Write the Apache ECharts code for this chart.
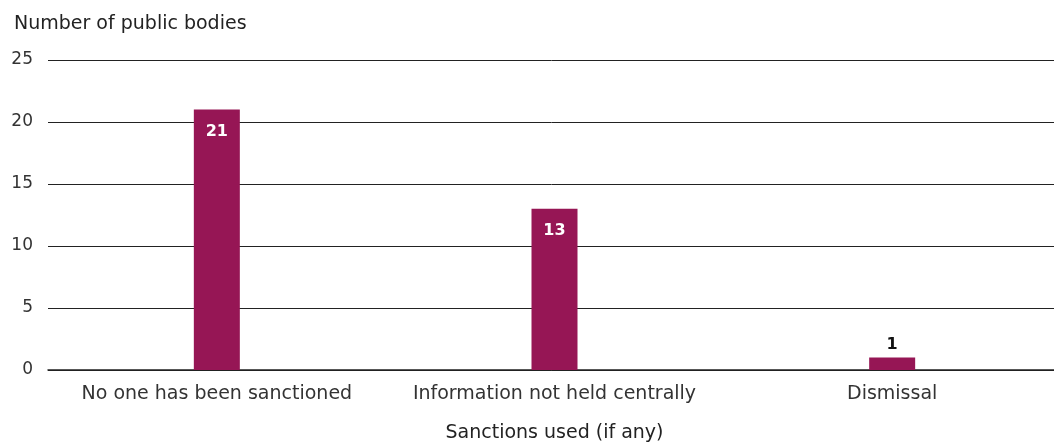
<!DOCTYPE html>
<html>
<head>
<meta charset="utf-8">
<script src="https://cdn.jsdelivr.net/npm/echarts@6/dist/echarts.min.js"></script>
<style>
  html, body { margin: 0; padding: 0; background: #fff; }
  #chart { width: 1054px; height: 444px; }
</style>
</head>
<body>
<div id="chart"></div>
<script>
const categories = ['No one has been sanctioned', 'Information not held centrally', 'Dismissal']
const values = [21, 13, 1]
const yTicks = [0, 5, 10, 15, 20, 25]

const barColor = '#961655'
const font = 'DejaVu Sans, sans-serif'

const chart = echarts.init(document.getElementById('chart'))

chart.setOption({
  animation: false,
  textStyle: { fontFamily: font },
  title: {
    text: 'Number of public bodies',
    left: 9,
    top: 10,
    textStyle: { fontFamily: font, fontSize: 19, fontWeight: 'normal', color: '#222' },
  },
  grid: {
    left: 48,
    right: -7,
    top: 60,
    bottom: 74,
    containLabel: false,
    outerBoundsMode: 'none',
  },
  xAxis: {
    type: 'category',
    data: categories,
    name: 'Sanctions used (if any)',
    nameLocation: 'middle',
    nameGap: 54,
    nameTextStyle: { fontFamily: font, fontSize: 19, color: '#222' },
    axisLine: { lineStyle: { color: '#222', width: 1.5 } },
    axisTick: { show: false },
    axisLabel: { fontFamily: font, fontSize: 19, color: '#333', margin: 15, interval: 0, hideOverlap: false },
  },
  yAxis: {
    type: 'value',
    min: yTicks[0],
    max: yTicks[yTicks.length - 1],
    interval: 5,
    axisLine: { show: false },
    axisTick: { show: false },
    axisLabel: { fontFamily: font, fontSize: 17, color: '#333', margin: 15 },
    splitLine: { lineStyle: { color: '#222', width: 1 } },
  },
  series: [
    {
      type: 'bar',
      barWidth: 46,
      data: values.map((v) => ({
        value: v,
        label: v < 3
          ? { position: 'top', color: '#111', distance: 5 }
          : { position: 'insideTop', color: '#fff', distance: 14 },
      })),
      itemStyle: { color: barColor },
      label: {
        show: true,
        fontFamily: font,
        fontSize: 16,
        fontWeight: 'bold',
      },
    },
  ],
})
</script>
</body>
</html>
